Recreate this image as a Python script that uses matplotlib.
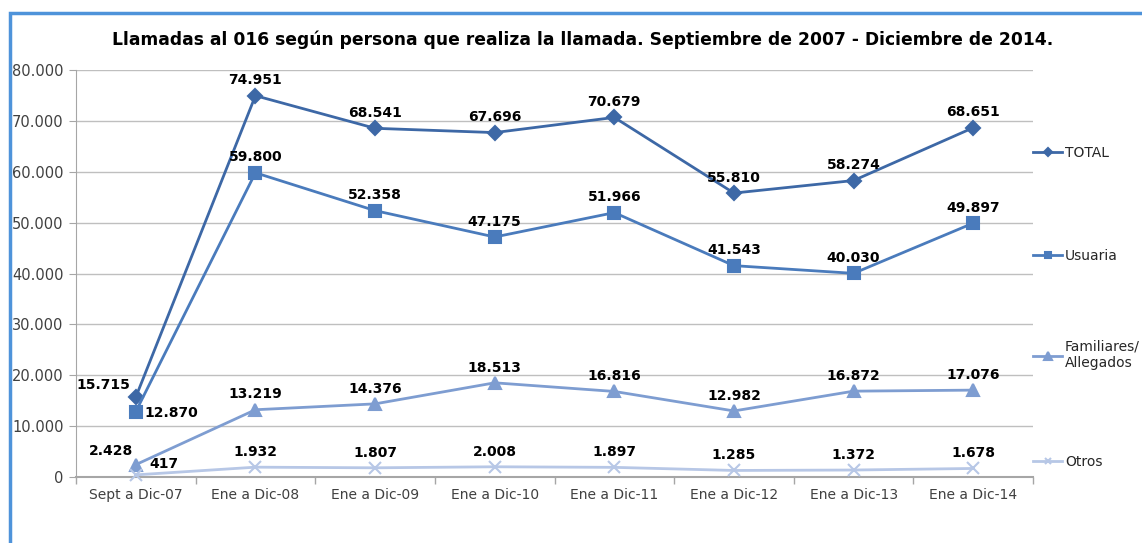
import matplotlib.pyplot as plt
from matplotlib.ticker import FuncFormatter, FixedLocator
from matplotlib.patches import Rectangle
from matplotlib.legend import Legend

categorias = ["Sept a Dic-07", "Ene a Dic-08", "Ene a Dic-09", "Ene a Dic-10",
              "Ene a Dic-11", "Ene a Dic-12", "Ene a Dic-13", "Ene a Dic-14"]
total = [15715, 74951, 68541, 67696, 70679, 55810, 58274, 68651]
usuaria = [12870, 59800, 52358, 47175, 51966, 41543, 40030, 49897]
familiares = [2428, 13219, 14376, 18513, 16816, 12982, 16872, 17076]
otros = [417, 1932, 1807, 2008, 1897, 1285, 1372, 1678]

titulo = "Llamadas al 016 según persona que realiza la llamada. Septiembre de 2007 - Diciembre de 2014."


def miles(v, pos=None):
    return f"{int(round(v)):,}".replace(",", ".")


fig = plt.figure(figsize=(11.42, 5.43), dpi=100)
ax = fig.add_axes([76 / 1142, 1 - 477 / 543, (1033 - 76) / 1142, (477 - 70) / 543])

x = list(range(len(categorias)))
series = [
    ("TOTAL", total, "#3D68A6", "D", 7),
    ("Usuaria", usuaria, "#4A7BBC", "s", 8),
    ("Familiares/\nAllegados", familiares, "#7E9DD1", "^", 8.5),
    ("Otros", otros, "#B7C7E6", "x", 8),
]
lineas = []
for nombre, vals, col, mk, ms in series:
    ln, = ax.plot(x, vals, color=col, lw=2, marker=mk, ms=ms, mew=1.5, label=nombre,
                  clip_on=False, zorder=3)
    lineas.append(ln)

# etiquetas de datos (encima, salvo los primeros puntos)
for nombre, vals, col, mk, ms in series:
    for i, v in enumerate(vals):
        dx, dy, ha = 0, 11, "center"
        if i == 0:
            if nombre == "TOTAL":
                dx, dy, ha = -4, 9, "right"
            elif nombre == "Usuaria":
                dx, dy, ha = 6, -1, "left"
            elif nombre == "Otros":
                dx, dy, ha = 10, 8, "left"
            else:
                dx, dy, ha = -2, 10, "right"
        ax.annotate(miles(v), (i, v), xytext=(dx, dy), textcoords="offset points",
                    ha=ha, va="center", fontsize=10, fontweight="bold",
                    color="black", zorder=4)

ax.set_xlim(-0.5, len(categorias) - 0.5)
ax.set_ylim(0, 80000)
ax.set_yticks(range(0, 80001, 10000))
ax.yaxis.set_major_formatter(FuncFormatter(miles))
ax.set_xticks(x)
ax.set_xticklabels(categorias)
ax.xaxis.set_minor_locator(FixedLocator([i - 0.5 for i in range(len(categorias) + 1)]))
ax.tick_params(axis="x", which="major", length=0, pad=8, labelsize=10, labelcolor="#404040")
ax.tick_params(axis="x", which="minor", length=5, color="#A6A6A6", width=1)
ax.tick_params(axis="y", length=5, color="#A6A6A6", pad=4, labelsize=10.5, labelcolor="#404040")
ax.grid(axis="y", color="#BFBFBF", lw=1)
ax.set_axisbelow(True)
for s in ["top", "right"]:
    ax.spines[s].set_visible(False)
ax.spines["left"].set_color("#A6A6A6")
ax.spines["bottom"].set_color("#A6A6A6")
ax.spines["bottom"].set_linewidth(1.5)

# leyenda: una entrada por serie, a la derecha
pos_leyenda = [0.796, 0.543, 0.30, 0.037]
for ln, yy in zip(lineas, pos_leyenda):
    leg = Legend(ax, [ln], [ln.get_label()], loc="center left", bbox_to_anchor=(1.0, yy),
                 frameon=False, fontsize=10, handlelength=2.1, handletextpad=0.2,
                 borderaxespad=0, borderpad=0, markerscale=0.6, labelcolor="#262626")
    ax.add_artist(leg)

fig.text(0.51, 1 - 40 / 543, titulo, ha="center", va="center",
         fontsize=12.3, fontweight="bold", color="black")

# marco azul del gráfico
fig.add_artist(Rectangle((10 / 1142, -0.1), 1.2, 1 - 13 / 543 + 0.1, transform=fig.transFigure,
                         fill=False, ec="#4E93DA", lw=2.5))

fig.savefig("out.png", dpi=100)
